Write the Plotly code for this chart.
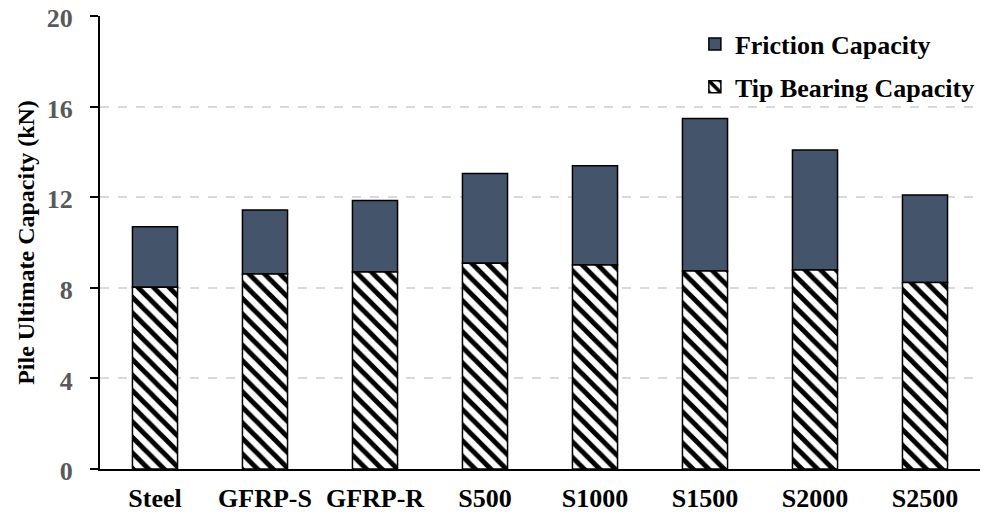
import plotly.graph_objects as go

categories = ["Steel", "GFRP-S", "GFRP-R", "S500", "S1000", "S1500", "S2000", "S2500"]
tip_bearing = [8.02, 8.61, 8.70, 9.08, 9.01, 8.74, 8.79, 8.23]
friction = [2.68, 2.82, 3.15, 3.97, 4.38, 6.74, 5.29, 3.87]
y_ticks = [0, 4, 8, 12, 16, 20]

FONT = "Liberation Serif"

fig = go.Figure()
fig.add_trace(go.Bar(
    x=categories, y=friction, base=tip_bearing, name="<b>Friction Capacity</b>",
    legendgroup="fric",
    marker=dict(color="#44546A", line=dict(color="black", width=1.5)),
))
fig.add_trace(go.Bar(
    x=categories, y=tip_bearing, name="<b>Tip Bearing Capacity</b>", legendgroup="tip",
    marker=dict(color="white", line=dict(color="black", width=1.5),
                pattern=dict(shape="\\", fgcolor="black", bgcolor="white",
                             size=11, solidity=0.45, fillmode="replace")),
))

fig.update_layout(
    width=985, height=520,
    barmode="overlay", bargap=0.59,
    plot_bgcolor="white", paper_bgcolor="white",
    margin=dict(l=100, r=5, t=16, b=51),
    font=dict(family=FONT, size=26, color="black"),
    showlegend=True,
    legend=dict(x=0.676, xanchor="left", y=0.99, yanchor="top",
                traceorder="grouped", bgcolor="rgba(0,0,0,0)",
                font=dict(family=FONT, size=26, color="black"),
                itemwidth=30, tracegroupgap=6),
)
fig.update_xaxes(
    showline=True, linecolor="black", linewidth=2, ticks="",
    tickfont=dict(family=FONT, size=26, color="black"),
    tickvals=categories, ticktext=[f"<b>{c}</b>" for c in categories],
    ticklabelstandoff=5,
    showgrid=False,
)
fig.update_yaxes(
    range=[0, 20], tickvals=y_ticks, ticktext=[f"<b>{v}</b>" for v in y_ticks],
    showline=True, linecolor="black", linewidth=2,
    ticks="outside", ticklen=8, tickwidth=2, tickcolor="black",
    tickfont=dict(family=FONT, size=26, color="#595959"),
    ticklabelstandoff=12, ticklabelshift=2, ticklabeloverflow="allow",
    showgrid=True, gridcolor="#d9d9d9", griddash="dash", gridwidth=1.5,
    zeroline=False,
    title=dict(text="<b>Pile Ultimate Capacity (kN)</b>",
               font=dict(family=FONT, size=24, color="black"), standoff=5),
    automargin=False,
)

fig.write_html("out.html", config={"displayModeBar": False},
               post_script="document.body.style.margin='0px';")
